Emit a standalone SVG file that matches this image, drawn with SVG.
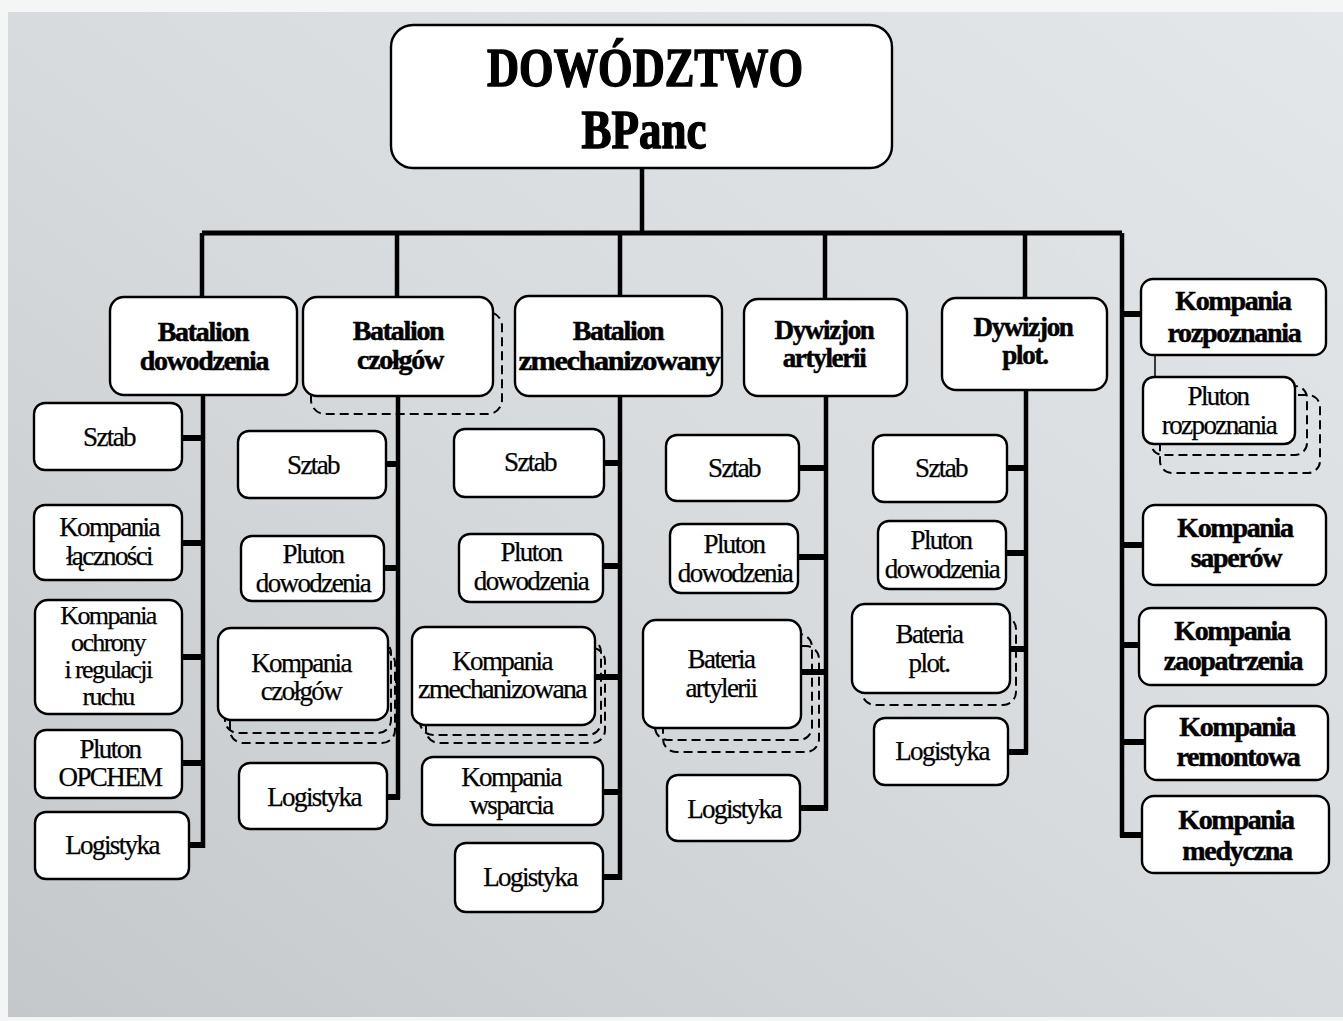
<svg xmlns="http://www.w3.org/2000/svg" width="1343" height="1021" viewBox="0 0 1343 1021">
  <defs>
    <linearGradient id="paper" x1="1" y1="0" x2="0" y2="1">
      <stop offset="0" stop-color="#e4e7ea"/>
      <stop offset="0.5" stop-color="#d7dbde"/>
      <stop offset="1" stop-color="#c4c8cb"/>
    </linearGradient>
    <style>
      .box { fill: #fff; stroke: #000; stroke-width: 2.4; }
      .ghost { fill: none; stroke: #000; stroke-width: 2; stroke-dasharray: 9 5; }
      .wire { fill: none; stroke: #000; stroke-linejoin: miter; stroke-linecap: butt; }
      .bus { stroke-width: 5; }
      .spine { stroke-width: 4.5; }
      .stub { stroke-width: 6; }
      .thin { stroke-width: 1.5; }
      text { font-family: "Liberation Serif", "Times New Roman", serif; text-anchor: middle; fill: #000; }
      .t { font-size: 27px; letter-spacing: -1.6px; stroke: #000; stroke-width: 0.25; }
      .b { font-size: 28px; font-weight: bold; letter-spacing: -1.3px; stroke: #000; stroke-width: 0.5; }
      .bs { font-size: 27px; }
      .ts { font-size: 26px; }
      .h { font-size: 54px; font-weight: bold; stroke: #000; stroke-width: 1.4; }
    </style>
  </defs>

  <!-- page and grey panel -->
  <rect x="0" y="0" width="1343" height="1021" fill="#f4f5f5"/>
  <rect x="8" y="12" width="1335" height="1005" fill="url(#paper)"/>

  <!-- connectors -->
  <g id="connectors">
    <path class="wire spine" d="M642 168 V233"/>
    <path class="wire bus" d="M202 233 H1122"/>
    <path class="wire spine" d="M202 233 V297 M397 233 V297 M620 233 V296 M825 233 V299 M1025 233 V298"/>
    <!-- independent companies -->
    <path class="wire spine" d="M1122 233 V837"/>
    <path class="wire stub" d="M1122 314 H1141 M1122 545 H1143 M1122 645 H1139 M1122 742 H1145 M1120 835 H1142"/>
    <path class="wire thin" d="M1155 355 V378"/>
    <!-- Batalion dowodzenia -->
    <path class="wire spine" d="M203 395 V848"/>
    <path class="wire stub" d="M182 438 H203 M182 543 H203 M182 657 H203 M182 763 H203 M189 845 H205"/>
    <!-- Batalion czołgów -->
    <path class="wire spine" d="M398 396 V799"/>
    <path class="wire stub" d="M386 464 H398 M384 568 H398 M395 680 H398 M387 797 H400"/>
    <!-- Batalion zmechanizowany -->
    <path class="wire spine" d="M620 396 V880"/>
    <path class="wire stub" d="M604 463 H620 M603 566 H620 M595 677 H620 M603 792 H620 M603 877 H622"/>
    <!-- Dywizjon artylerii -->
    <path class="wire spine" d="M826 396 V810"/>
    <path class="wire stub" d="M799 468 H826 M798 557 H826 M801 672 H826 M800 808 H828"/>
    <!-- Dywizjon plot. -->
    <path class="wire spine" d="M1026 390 V754"/>
    <path class="wire stub" d="M1007 468 H1026 M1006 553 H1026 M1010 649 H1026 M1008 752 H1028"/>
  </g>

  <!-- command -->
  <g id="dowodztwo">
    <rect class="box" x="391" y="25" width="501" height="143" rx="22"/>
    <text class="h" x="645" y="86" textLength="316" lengthAdjust="spacingAndGlyphs">DOWÓDZTWO</text>
    <text class="h" x="644" y="148" textLength="125" lengthAdjust="spacingAndGlyphs">BPanc</text>
  </g>

  <!-- Batalion dowodzenia -->
  <g id="bat-dowodzenia">
    <rect class="box" x="110" y="297" width="187" height="98" rx="14"/>
    <text class="b" x="203" y="341">Batalion</text>
    <text class="b" x="204" y="370">dowodzenia</text>
  </g>
  <g id="bd-sztab">
    <rect class="box" x="34" y="403" width="148" height="67" rx="11"/>
    <text class="t" x="109" y="446">Sztab</text>
  </g>
  <g id="bd-lacznosci">
    <rect class="box" x="34" y="505" width="148" height="75" rx="11"/>
    <text class="t" x="109" y="536">Kompania</text>
    <text class="t" x="109" y="565">łączności</text>
  </g>
  <g id="bd-ochrony">
    <rect class="box" x="35" y="600" width="147" height="114" rx="13"/>
    <text class="t ts" x="108" y="624">Kompania</text>
    <text class="t ts" x="108" y="651">ochrony</text>
    <text class="t ts" x="108" y="678">i regulacji</text>
    <text class="t ts" x="108" y="705">ruchu</text>
  </g>
  <g id="bd-opchem">
    <rect class="box" x="35" y="730" width="147" height="68" rx="11"/>
    <text class="t" x="110" y="758">Pluton</text>
    <text class="t" x="110" y="786">OPCHEM</text>
  </g>
  <g id="bd-logistyka">
    <rect class="box" x="35" y="812" width="154" height="67" rx="11"/>
    <text class="t" x="112" y="854">Logistyka</text>
  </g>

  <!-- Batalion czołgów -->
  <g id="bat-czolgow">
    <rect class="ghost" x="311" y="312" width="191" height="102" rx="14"/>
    <rect class="box" x="303" y="297" width="190" height="99" rx="14"/>
    <text class="b" x="398" y="340">Batalion</text>
    <text class="b" x="400" y="369">czołgów</text>
  </g>
  <g id="bc-sztab">
    <rect class="box" x="238" y="431" width="148" height="67" rx="11"/>
    <text class="t" x="313" y="474">Sztab</text>
  </g>
  <g id="bc-pluton">
    <rect class="box" x="241" y="536" width="143" height="65" rx="11"/>
    <text class="t" x="313" y="563">Pluton</text>
    <text class="t" x="313" y="592">dowodzenia</text>
  </g>
  <g id="bc-kompania">
    <rect class="ghost" x="230" y="650" width="165" height="93" rx="13"/>
    <rect class="ghost" x="225" y="640" width="166" height="93" rx="13"/>
    <rect class="box" x="218" y="628" width="170" height="92" rx="13"/>
    <text class="t" x="301" y="672">Kompania</text>
    <text class="t" x="301" y="700">czołgów</text>
  </g>
  <g id="bc-logistyka">
    <rect class="box" x="239" y="763" width="148" height="66" rx="11"/>
    <text class="t" x="314" y="806">Logistyka</text>
  </g>

  <!-- Batalion zmechanizowany -->
  <g id="bat-zmech">
    <rect class="box" x="515" y="296" width="207" height="100" rx="14"/>
    <text class="b" x="618" y="340">Batalion</text>
    <text class="b" x="619" y="370" textLength="201" lengthAdjust="spacingAndGlyphs">zmechanizowany</text>
  </g>
  <g id="bz-sztab">
    <rect class="box" x="454" y="429" width="150" height="68" rx="11"/>
    <text class="t" x="530" y="471">Sztab</text>
  </g>
  <g id="bz-pluton">
    <rect class="box" x="459" y="534" width="144" height="68" rx="11"/>
    <text class="t" x="531" y="561">Pluton</text>
    <text class="t" x="531" y="590">dowodzenia</text>
  </g>
  <g id="bz-kompania">
    <rect class="ghost" x="426" y="648" width="179" height="95" rx="13"/>
    <rect class="ghost" x="420" y="639" width="181" height="96" rx="13"/>
    <rect class="box" x="412" y="627" width="183" height="98" rx="13"/>
    <text class="t" x="502" y="670">Kompania</text>
    <text class="t" x="502" y="698" textLength="168" lengthAdjust="spacingAndGlyphs">zmechanizowana</text>
  </g>
  <g id="bz-wsparcia">
    <rect class="box" x="422" y="757" width="181" height="68" rx="11"/>
    <text class="t" x="511" y="786">Kompania</text>
    <text class="t" x="511" y="814">wsparcia</text>
  </g>
  <g id="bz-logistyka">
    <rect class="box" x="455" y="843" width="148" height="69" rx="11"/>
    <text class="t" x="530" y="886">Logistyka</text>
  </g>

  <!-- Dywizjon artylerii -->
  <g id="dyw-artylerii">
    <rect class="box" x="744" y="299" width="163" height="97" rx="14"/>
    <text class="b bs" x="824" y="339">Dywizjon</text>
    <text class="b bs" x="824" y="367">artylerii</text>
  </g>
  <g id="da-sztab">
    <rect class="box" x="666" y="435" width="133" height="66" rx="11"/>
    <text class="t" x="734" y="477">Sztab</text>
  </g>
  <g id="da-pluton">
    <rect class="box" x="670" y="524" width="128" height="69" rx="11"/>
    <text class="t" x="734" y="553">Pluton</text>
    <text class="t" x="735" y="582">dowodzenia</text>
  </g>
  <g id="da-bateria">
    <rect class="ghost" x="663" y="646" width="156" height="106" rx="13"/>
    <rect class="ghost" x="655" y="634" width="157" height="106" rx="13"/>
    <rect class="box" x="643" y="620" width="158" height="108" rx="13"/>
    <text class="t" x="721" y="668">Bateria</text>
    <text class="t" x="721" y="697">artylerii</text>
  </g>
  <g id="da-logistyka">
    <rect class="box" x="667" y="775" width="133" height="66" rx="11"/>
    <text class="t" x="734" y="818">Logistyka</text>
  </g>

  <!-- Dywizjon plot. -->
  <g id="dyw-plot">
    <rect class="box" x="942" y="298" width="165" height="92" rx="14"/>
    <text class="b bs" x="1023" y="336">Dywizjon</text>
    <text class="b bs" x="1025" y="364">plot.</text>
  </g>
  <g id="dp-sztab">
    <rect class="box" x="873" y="435" width="134" height="67" rx="11"/>
    <text class="t" x="941" y="477">Sztab</text>
  </g>
  <g id="dp-pluton">
    <rect class="box" x="878" y="521" width="128" height="68" rx="11"/>
    <text class="t" x="941" y="549">Pluton</text>
    <text class="t" x="942" y="578">dowodzenia</text>
  </g>
  <g id="dp-bateria">
    <rect class="ghost" x="862" y="616" width="154" height="89" rx="13"/>
    <rect class="box" x="852" y="604" width="158" height="89" rx="13"/>
    <text class="t" x="929" y="643">Bateria</text>
    <text class="t" x="929" y="672">plot.</text>
  </g>
  <g id="dp-logistyka">
    <rect class="box" x="874" y="718" width="134" height="67" rx="11"/>
    <text class="t" x="942" y="760">Logistyka</text>
  </g>

  <!-- independent companies -->
  <g id="k-rozpoznania">
    <rect class="box" x="1141" y="279" width="185" height="76" rx="12"/>
    <text class="b" x="1233" y="310">Kompania</text>
    <text class="b" x="1234" y="342">rozpoznania</text>
  </g>
  <g id="p-rozpoznania">
    <rect class="ghost" x="1160" y="395" width="160" height="78" rx="12"/>
    <rect class="ghost" x="1151" y="386" width="156" height="69" rx="12"/>
    <rect class="box" x="1143" y="377" width="152" height="67" rx="11"/>
    <text class="t" x="1218" y="405">Pluton</text>
    <text class="t" x="1219" y="434">rozpoznania</text>
  </g>
  <g id="k-saperow">
    <rect class="box" x="1143" y="505" width="183" height="80" rx="12"/>
    <text class="b" x="1235" y="537">Kompania</text>
    <text class="b" x="1236" y="567">saperów</text>
  </g>
  <g id="k-zaopatrzenia">
    <rect class="box" x="1139" y="608" width="187" height="77" rx="12"/>
    <text class="b" x="1232" y="640">Kompania</text>
    <text class="b" x="1233" y="670">zaopatrzenia</text>
  </g>
  <g id="k-remontowa">
    <rect class="box" x="1145" y="706" width="183" height="74" rx="12"/>
    <text class="b" x="1237" y="736">Kompania</text>
    <text class="b" x="1238" y="766">remontowa</text>
  </g>
  <g id="k-medyczna">
    <rect class="box" x="1142" y="796" width="187" height="77" rx="12"/>
    <text class="b" x="1236" y="829">Kompania</text>
    <text class="b" x="1237" y="860">medyczna</text>
  </g>
</svg>
